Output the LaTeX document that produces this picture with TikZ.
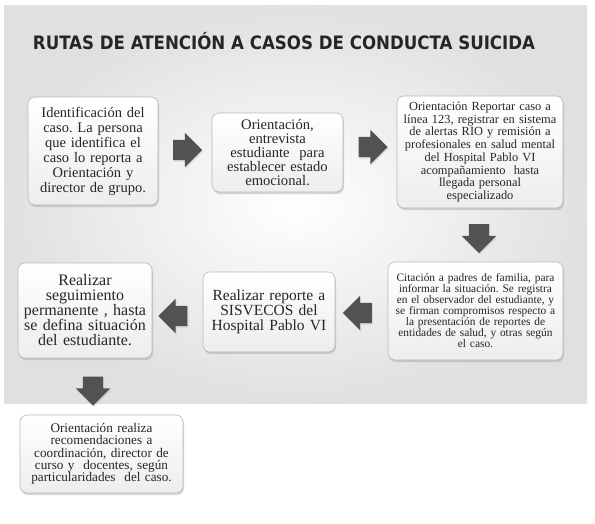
\documentclass[tikz,border=0pt]{standalone}
\usepackage{fontspec}
\setmainfont{Liberation Serif}
\newfontfamily\titlefont{DejaVu Sans Condensed}
\usetikzlibrary{shapes.arrows,shadows}
\tikzset{
  caja/.style={draw=gray!55, line width=0.6pt, rounded corners=7pt,
    top color=white, bottom color=gray!14, align=center, inner sep=2pt,
    text=black!85,
    drop shadow={shadow xshift=1pt, shadow yshift=-2pt, opacity=0.3}},
  flecha/.style={single arrow, fill=black!68, draw=none, inner xsep=0pt, inner ysep=10pt,
    minimum height=29pt, minimum width=33pt, single arrow head indent=0pt,
    drop shadow={shadow xshift=1pt, shadow yshift=-1.5pt, opacity=0.2}}
}
\frenchspacing
\begin{document}
\begin{tikzpicture}[x=1pt,y=-1pt]
  \useasboundingbox (0,0) rectangle (595,523);
  \fill[white] (0,0) rectangle (595,523);
  % fondo
  \shade[inner color=white, outer color=gray!24] (4,5) rectangle (587,403);

  \node[anchor=base, font=\titlefont\bfseries\fontsize{18.5}{18.5}\selectfont, text=black!85] (titulo) at (284,49)
    {RUTAS DE ATENCIÓN A CASOS DE CONDUCTA SUICIDA};

  % fila superior
  \node[caja, text width=126pt, minimum height=108pt, font=\fontsize{14.5}{15}\selectfont] (ident) at (93,151)
    {Identificación del\\ caso. La persona\\ que identifica el\\ caso lo reporta a\\ Orientación y\\ director de grupo.};
  \node[caja, text width=127pt, minimum height=79pt, font=\fontsize{14.6}{14}\selectfont] (entrevista) at (277.5,152.5)
    {Orientación,\\ entrevista\\ estudiante\ \ para\\ establecer estado\\ emocional.};
  \node[caja, text width=162pt, minimum height=112pt, font=\fontsize{12.4}{12.7}\selectfont] (reportar) at (480,152)
    {Orientación Reportar caso a\\ línea 123, registrar en sistema\\ de alertas RIO y remisión a\\ profesionales en salud mental\\ del Hospital Pablo VI\\ acompañamiento\ \ hasta\\ llegada personal\\ especializado};

  % fila media
  \node[caja, text width=171pt, minimum height=98pt, font=\fontsize{11.4}{11}\selectfont] (citacion) at (475.5,311)
    {Citación a padres de familia, para\\ informar la situación. Se registra\\ en el observador del estudiante, y\\ se firman compromisos respecto a\\ la presentación de reportes de\\ entidades de salud, y otras según\\ el caso.};
  \node[caja, text width=128pt, minimum height=80pt, font=\fontsize{15.5}{15}\selectfont] (sisvecos) at (269,312)
    {Realizar reporte a\\ SISVECOS del\\ Hospital Pablo VI};
  \node[caja, text width=130pt, minimum height=95pt, font=\fontsize{16}{15}\selectfont] (seguimiento) at (85,310.5)
    {Realizar\\ seguimiento\\ permanente , hasta\\ se defina situación\\ del estudiante.};

  % fila inferior
  \node[caja, text width=159pt, minimum height=78pt, font=\fontsize{13.2}{12.2}\selectfont] (recomienda) at (101.5,454)
    {Orientación\ realiza\\ recomendaciones a\\ coordinación, director de\\ curso y\ \ docentes, según\\ particularidades\ \ del caso.};

  % flechas
  \node[flecha] (f1) at (182.5,150) {};
  \node[flecha] (f2) at (368,147) {};
  \node[flecha, rotate=-90] (f3) at (479,233.5) {};
  \node[flecha, rotate=180] (f4) at (362.5,313) {};
  \node[flecha, rotate=180] (f5) at (178,316) {};
  \node[flecha, rotate=-90] (f6) at (93,386) {};

\end{tikzpicture}
\end{document}
